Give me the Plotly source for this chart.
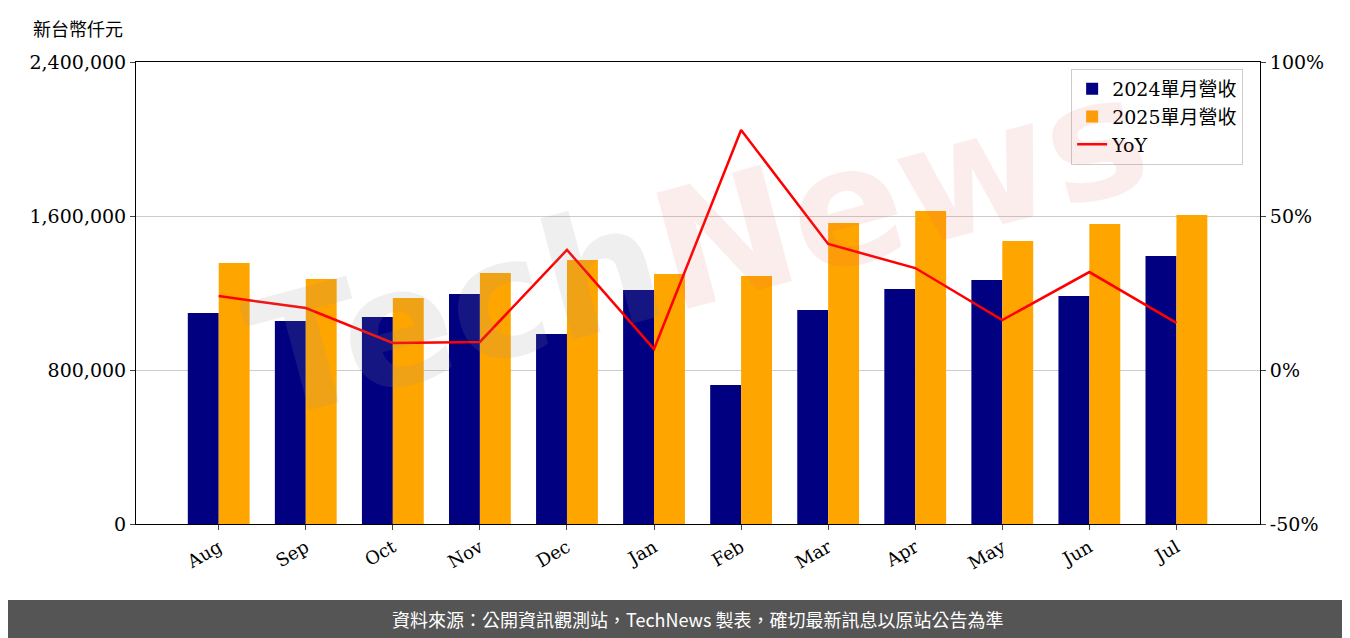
import plotly.graph_objects as go

months = ["Aug","Sep","Oct","Nov","Dec","Jan","Feb","Mar","Apr","May","Jun","Jul"]
rev2024 = [1096000,1054500,1075000,1195000,987000,1215600,722000,1111700,1220800,1267500,1184400,1392200]
rev2025 = [1355800,1272700,1174000,1303900,1371400,1298700,1288300,1563600,1626000,1470100,1558400,1605200]
yoy = [24.0,20.1,8.8,9.1,39.0,6.8,77.9,40.9,33.1,16.2,31.8,15.3]

font_serif = "DejaVu Serif, Noto Sans CJK TC"
fig = go.Figure()
fig.add_bar(x=months, y=rev2024, name="2024單月營收", marker=dict(color="#000080", line=dict(width=0)), offsetgroup=0)
fig.add_bar(x=months, y=rev2025, name="2025單月營收", marker=dict(color="#FFA500", line=dict(width=0)), offsetgroup=1)
fig.add_scatter(x=months, y=yoy, name="YoY", mode="lines", line=dict(color="red", width=2.5), yaxis="y2")

fig.update_layout(
    width=1350, height=638, margin=dict(l=128, r=98, t=54, b=122),
    plot_bgcolor="white", paper_bgcolor="white",
    font=dict(family=font_serif, size=19, color="black"),
    bargap=0.29, bargroupgap=0,
    showlegend=True,
    legend=dict(x=0.985, y=0.985, xanchor="right", yanchor="top", bordercolor="#cccccc", borderwidth=1,
                bgcolor="rgba(255,255,255,0.8)", font=dict(size=19)),
    xaxis=dict(showline=True, linecolor="black", mirror=True, tickangle=-30, ticks="outside",
               range=[-0.95, 11.96], tickfont=dict(size=18)),
    yaxis=dict(range=[0, 2400000], tickvals=[0,800000,1600000,2400000], tickformat=",d",
               showgrid=True, gridcolor="#cccccc", showline=True, linecolor="black", ticks="outside",
               zeroline=False),
    yaxis2=dict(range=[-50, 100], tickvals=[-50,0,50,100], ticktext=["-50%","0%","50%","100%"],
                overlaying="y", side="right",
                showgrid=False, showline=True, linecolor="black", ticks="outside", zeroline=False),
    annotations=[
        dict(text="新台幣仟元", x=-0.093, y=1.074, xanchor="left", yanchor="middle", xref="paper", yref="paper",
             showarrow=False, font=dict(family="Noto Sans CJK TC", size=18)),
        dict(text="<span style='color:rgba(150,150,150,0.15)'>Tech</span><span style='color:rgba(230,80,80,0.1)'>News</span>",
             xref="paper", yref="paper", x=0.5, y=0.6, showarrow=False, textangle=-15,
             font=dict(family="DejaVu Sans", size=165, weight="bold")),
        dict(text="資料來源：公開資訊觀測站，TechNews 製表，確切最新訊息以原站公告為準", xref="paper", yref="paper",
             x=0.5, y=-0.2056, yanchor="middle", showarrow=False,
             font=dict(family="Noto Sans CJK TC", size=18, color="white")),
    ],
    shapes=[dict(type="rect", xref="paper", yref="paper", x0=-0.2, x1=1.2, y0=-0.1645, y1=-0.3,
                 fillcolor="#555555", line=dict(width=0), layer="below")],
)
fig.write_html("out.html")
